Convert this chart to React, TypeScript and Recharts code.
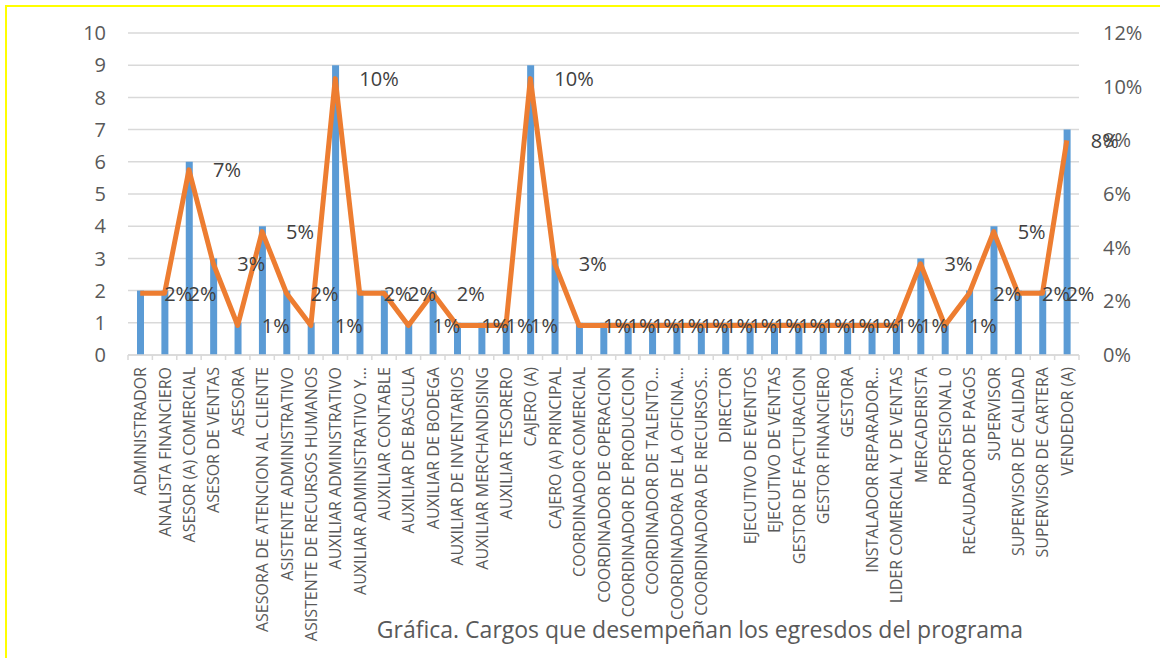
import React from 'react';
import { Bar, CartesianGrid, ComposedChart, LabelList, Line, XAxis, YAxis } from 'recharts';

// Cargos (eje X) tal como aparecen en la gráfica
const cargos = [
  'ADMINISTRADOR',
  'ANALISTA FINANCIERO',
  'ASESOR (A) COMERCIAL',
  'ASESOR DE VENTAS',
  'ASESORA',
  'ASESORA DE ATENCION AL CLIENTE',
  'ASISTENTE ADMINISTRATIVO',
  'ASISTENTE DE RECURSOS HUMANOS',
  'AUXILIAR ADMINISTRATIVO',
  'AUXILIAR ADMINISTRATIVO Y…',
  'AUXILIAR CONTABLE',
  'AUXILIAR DE BASCULA',
  'AUXILIAR DE BODEGA',
  'AUXILIAR DE INVENTARIOS',
  'AUXILIAR MERCHANDISING',
  'AUXILIAR TESORERO',
  'CAJERO (A)',
  'CAJERO (A) PRINCIPAL',
  'COORDINADOR COMERCIAL',
  'COORDINADOR DE OPERACION',
  'COORDINADOR DE PRODUCCION',
  'COORDINADOR DE TALENTO…',
  'COORDINADORA DE LA OFICINA…',
  'COORDINADORA DE RECURSOS…',
  'DIRECTOR',
  'EJECUTIVO DE EVENTOS',
  'EJECUTIVO DE VENTAS',
  'GESTOR DE FACTURACION',
  'GESTOR FINANCIERO',
  'GESTORA',
  'INSTALADOR REPARADOR…',
  'LIDER COMERCIAL Y DE VENTAS',
  'MERCADERISTA',
  'PROFESIONAL 0',
  'RECAUDADOR DE PAGOS',
  'SUPERVISOR',
  'SUPERVISOR DE CALIDAD',
  'SUPERVISOR DE CARTERA',
  'VENDEDOR (A)',
];

// número de egresados por cargo (barras, eje izquierdo)
const cantidades = [
  2, 2, 6, 3, 1, 4, 2, 1, 9, 2, 2, 1, 2, 1, 1, 1, 9, 3, 1, 1, 1, 1, 1, 1, 1, 1, 1, 1, 1, 1, 1, 1, 3, 1, 2, 4, 2, 2, 7,
];

// porcentaje (línea, eje derecho)
const porcentajes = [
  2.3, 2.3, 6.9, 3.4, 1.1, 4.6, 2.3, 1.1, 10.3, 2.3, 2.3, 1.1, 2.3, 1.1, 1.1, 1.1, 10.3, 3.4, 1.1, 1.1, 1.1, 1.1, 1.1,
  1.1, 1.1, 1.1, 1.1, 1.1, 1.1, 1.1, 1.1, 1.1, 3.4, 1.1, 2.3, 4.6, 2.3, 2.3, 8.0,
];

const ticksIzq = [0, 1, 2, 3, 4, 5, 6, 7, 8, 9, 10];
const ticksDer = [0, 2, 4, 6, 8, 10, 12];

const titulo = 'Gráfica. Cargos que desempeñan los egresdos del programa';

const data = cargos.map((name, i) => ({ name, cantidad: cantidades[i], pct: porcentajes[i] }));

const W = 1160;
const H = 658;
const LEFT_W = 128;
const RIGHT_W = 81;
const FONT = '"Open Sans", "DejaVu Sans", sans-serif';
const GRID = '#D9D9D9';
const TEXT = '#595959';

const half = (W - LEFT_W - RIGHT_W) / cargos.length / 2;

function CategoryTick(props: any) {
  const { x, y, payload } = props;
  const off = payload?.offset || half;
  const axisY = y - 12;
  const last = payload.index === cargos.length - 1;
  return (
    <g>
      <line x1={x - off} x2={x - off} y1={axisY} y2={axisY + 5} stroke={GRID} strokeWidth={1.5} />
      {last && <line x1={x + off} x2={x + off} y1={axisY} y2={axisY + 5} stroke={GRID} strokeWidth={1.5} />}
      <text
        x={x}
        y={y}
        transform={`rotate(-90, ${x}, ${y})`}
        textAnchor="end"
        dominantBaseline="central"
        fontSize={16}
        fill={TEXT}
        fontFamily={FONT}
      >
        {payload.value}
      </text>
    </g>
  );
}

function PctLabel(props: any) {
  const { x, y, value } = props;
  if (x == null || y == null) return null;
  return (
    <text x={x + 24} y={y} dominantBaseline="central" fontSize={20} fill="#404040" fontFamily={FONT}>
      {`${Math.round(Number(value))}%`}
    </text>
  );
}

function TitleLabel() {
  return (
    <text x={700} y={638} textAnchor="middle" fontSize={23} fill={TEXT} fontFamily={FONT}>
      {titulo}
    </text>
  );
}

export default function App() {
  return (
    <div style={{ position: 'absolute', left: 0, top: 0, width: W, height: H, background: '#fff', overflow: 'hidden' }}>
      <div
        style={{
          position: 'absolute',
          left: 5,
          top: 5,
          width: W,
          height: H,
          borderTop: '2px solid #FFFF00',
          borderLeft: '2px solid #FFFF00',
        }}
      />
      <ComposedChart
        width={W}
        height={H}
        data={data}
        margin={{ top: 33, right: 0, bottom: 0, left: 0 }}
        style={{ fontFamily: FONT }}
      >
        <CartesianGrid yAxisId="left" vertical={false} stroke={GRID} strokeWidth={1.5} />
        <XAxis
          dataKey="name"
          interval={0}
          height={H - 33 - 322}
          tickLine={false}
          tickSize={0}
          tickMargin={12}
          axisLine={{ stroke: GRID, strokeWidth: 1.5 }}
          tick={<CategoryTick />}
          label={{ content: <TitleLabel /> }}
        />
        <YAxis
          yAxisId="left"
          domain={[0, 10]}
          ticks={ticksIzq}
          interval={0}
          width={LEFT_W}
          axisLine={false}
          tickLine={false}
          tickMargin={16}
          tick={{ fontSize: 20, fill: TEXT, fontFamily: FONT }}
        />
        <YAxis
          yAxisId="right"
          orientation="right"
          domain={[0, 12]}
          ticks={ticksDer}
          interval={0}
          width={RIGHT_W}
          axisLine={false}
          tickLine={false}
          tickMargin={18}
          tickFormatter={(v) => `${v}%`}
          tick={{ fontSize: 20, fill: TEXT, fontFamily: FONT }}
        />
        <Bar yAxisId="left" dataKey="cantidad" fill="#5B9BD5" barSize={7} isAnimationActive={false} />
        <Line
          yAxisId="right"
          type="linear"
          dataKey="pct"
          stroke="#ED7D31"
          strokeWidth={5}
          strokeLinejoin="round"
          dot={false}
          activeDot={false}
          isAnimationActive={false}
        >
          <LabelList dataKey="pct" content={<PctLabel />} />
        </Line>
      </ComposedChart>
    </div>
  );
}
